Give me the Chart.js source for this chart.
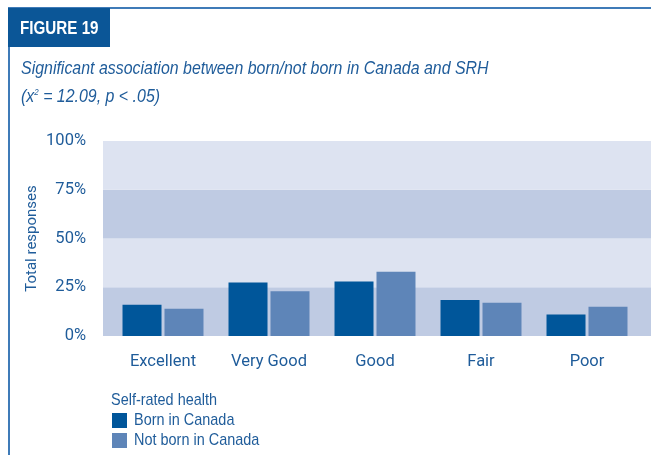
<!DOCTYPE html>
<html lang="en">
<head>
<meta charset="UTF-8">
<title>Figure 19</title>
<script src="https://cdn.jsdelivr.net/npm/chart.js@4.4.0/dist/chart.umd.min.js"></script>
<style>
  html, body { margin: 0; padding: 0; background: #fff; }
  body {
    width: 651px; height: 455px; position: relative; overflow: hidden;
    font-family: 'Liberation Sans', Arial, sans-serif;
    color: #1f5c9a;
  }
  #wrap { position: absolute; left: 0; top: 0; width: 651px; height: 455px; }
  .frame-top { position: absolute; left: 8px; top: 7px; width: 643px; height: 2px; background: #3f7bb8; }
  .frame-left { position: absolute; left: 8px; top: 7px; width: 2px; height: 448px; background: #3f7bb8; }
  .fig {
    position: absolute; left: 8px; top: 8px; width: 102px; height: 39px;
    background: #0b5697; color: #fff; font-weight: bold; font-size: 19px;
    line-height: 40px; padding-left: 12px; box-sizing: border-box; white-space: nowrap;
  }
  .narrow { display: inline-block; transform-origin: left center; white-space: nowrap; }
  .sub { position: absolute; left: 21px; font-style: italic; font-size: 18px; }
  .legend { position: absolute; left: 111px; top: 390px; font-size: 17px; line-height: 20px; }
  .legend .item { display: flex; align-items: center; }
  .legend .sw { width: 15px; height: 15px; margin: 0 7px 0 1px; flex: none; }
</style>
</head>
<body>
<div id="wrap"><canvas id="chart"></canvas></div>
<div class="frame-top"></div>
<div class="frame-left"></div>
<div class="fig"><span class="narrow" style="transform:scaleX(0.8)">FIGURE 19</span></div>
<div class="sub" style="top:58px"><span class="narrow" style="transform:scaleX(0.885)">Significant association between born/not born in Canada and SRH</span></div>
<div class="sub" style="top:86px"><span class="narrow" style="transform:scaleX(0.885)">(x<sup style="font-size:9px">2</sup> = 12.09, p &lt; .05)</span></div>
<div class="legend" id="legend"></div>

<script>
const categories = ['Excellent', 'Very Good', 'Good', 'Fair', 'Poor'];
const bornInCanada = [16, 27.5, 28, 18.5, 11];
const notBornInCanada = [14, 23, 33, 17, 15];
const yTicks = [0, 25, 50, 75, 100];
const seriesNames = ['Born in Canada', 'Not born in Canada'];
const seriesColors = ['#00569a', '#5e85b8'];
const bandColors = ['#bfcbe3', '#dde3f1'];

const textColor = '#1f5c9a';
const fontFamily = "Roboto, 'Liberation Sans', Arial, sans-serif";

// alternating background bands, a bit wider than the plot area
const bands = {
    id: 'bands',
    beforeDatasetsDraw(chart) {
        const { ctx, chartArea, scales: { y } } = chart;
        ctx.save();
        for (let i = 0; i < yTicks.length - 1; i++) {
            const top = y.getPixelForValue(yTicks[i + 1]);
            const bottom = y.getPixelForValue(yTicks[i]);
            ctx.fillStyle = bandColors[i % 2];
            ctx.fillRect(chartArea.left - 7, top, chart.width - chartArea.left + 7, bottom - top);
        }
        ctx.restore();
    }
};

new Chart(document.getElementById('chart'), {
    type: 'bar',
    data: {
        labels: categories,
        datasets: [
            { label: seriesNames[0], data: bornInCanada, backgroundColor: seriesColors[0] },
            { label: seriesNames[1], data: notBornInCanada, backgroundColor: seriesColors[1] }
        ]
    },
    options: {
        responsive: true,
        maintainAspectRatio: false,
        animation: false,
        categoryPercentage: 0.792,
        barPercentage: 0.929,
        layout: { padding: { top: 141, right: 11, left: 0, bottom: 0 } },
        plugins: { legend: { display: false }, tooltip: { enabled: false } },
        scales: {
            x: {
                grid: { display: false },
                border: { display: false },
                ticks: { color: textColor, font: { family: fontFamily, size: 16.5 }, padding: 8 },
                afterFit(scale) { scale.height = 119; }
            },
            y: {
                min: 0,
                max: 100,
                afterBuildTicks(scale) { scale.ticks = yTicks.map(v => ({ value: v })); },
                grid: { display: false, drawTicks: false },
                border: { display: false },
                ticks: {
                    color: textColor, font: { family: fontFamily, size: 16.5 }, padding: 24,
                    callback: v => v + '%'
                },
                title: {
                    display: true, text: 'Total responses', color: textColor,
                    font: { family: fontFamily, size: 15 }, padding: { top: 23, bottom: 0 }
                },
                afterFit(scale) { scale.width = 110; }
            }
        }
    },
    plugins: [bands]
});

// legend
const legend = document.getElementById('legend');
legend.innerHTML = '<div><span class="narrow" style="transform:scaleX(0.85)">Self-rated health</span></div>' +
    seriesNames.map((n, i) =>
        '<div class="item"><span class="sw" style="background:' + seriesColors[i] + '"></span>' +
        '<span class="narrow" style="transform:scaleX(0.85)">' + n + '</span></div>'
    ).join('');
</script>
</body>
</html>
